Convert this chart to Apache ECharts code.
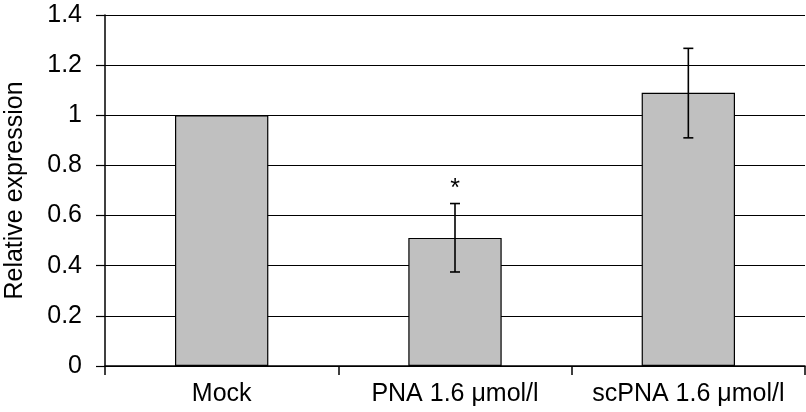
<!DOCTYPE html>
<html>
<head>
<meta charset="utf-8">
<script src="https://cdn.jsdelivr.net/npm/echarts@6/dist/echarts.min.js"></script>
<style>html,body{margin:0;padding:0;background:#fff}#c{width:806px;height:412px}</style>
</head>
<body>
<div id="c"></div>
<script>
var categories = ['Mock', 'PNA 1.6 \u03bcmol/l', 'scPNA 1.6 \u03bcmol/l'];
var values = [1.0, 0.511, 1.090];
var errLow = [1.0, 0.375, 0.910];
var errHigh = [1.0, 0.648, 1.267];
var marks = ['', '*', ''];
var yMin = 0, yMax = 1.4, yStep = 0.2;

var FONT = '"Liberation Sans", Arial, Helvetica, sans-serif';
var FS = 25;
var chart = echarts.init(document.getElementById('c'));
var errData = categories.map(function (c, i) { return [i, errLow[i], errHigh[i], marks[i]]; });

chart.setOption({
  animation: false,
  grid: { left: 105, right: 1, top: 15, bottom: 46, containLabel: false, outerBoundsMode: 'none' },
  xAxis: {
    type: 'category',
    data: categories,
    z: 5,
    axisLine: { lineStyle: { color: '#000', width: 1.5 } },
    axisTick: { show: true, length: 9, lineStyle: { color: '#000', width: 1.5 } },
    axisLabel: { color: '#000', fontSize: FS, fontFamily: FONT, margin: 16, interval: 0, hideOverlap: false }
  },
  yAxis: {
    type: 'value',
    min: yMin, max: yMax, interval: yStep,
    name: 'Relative expression',
    nameLocation: 'middle',
    nameGap: 77,
    nameTextStyle: { color: '#000', fontSize: FS, fontFamily: FONT },
    axisLine: { show: true, lineStyle: { color: '#000', width: 1.5 } },
    axisTick: { show: true, length: 9, lineStyle: { color: '#000', width: 1.2 } },
    axisLabel: { color: '#000', fontSize: FS, fontFamily: FONT, margin: 23 },
    splitLine: { show: true, lineStyle: { color: '#000', width: 1.2 } }
  },
  series: [
    {
      type: 'bar',
      data: values,
      barWidth: '40%',
      itemStyle: { color: '#c0c0c0', borderColor: '#000', borderWidth: 1.2 },
      z: 2
    },
    {
      type: 'custom',
      data: errData,
      z: 3,
      renderItem: function (params, api) {
        var x = api.value(0);
        var lo = api.coord([x, api.value(1)]);
        var hi = api.coord([x, api.value(2)]);
        var hw = 5;
        var st = { stroke: '#000', lineWidth: 1.6 };
        var children = [];
        if (Math.abs(hi[1] - lo[1]) > 0.5) {
          children.push({ type: 'line', shape: { x1: hi[0], y1: hi[1], x2: lo[0], y2: lo[1] }, style: st });
          children.push({ type: 'line', shape: { x1: hi[0] - hw, y1: hi[1], x2: hi[0] + hw, y2: hi[1] }, style: st });
          children.push({ type: 'line', shape: { x1: lo[0] - hw, y1: lo[1], x2: lo[0] + hw, y2: lo[1] }, style: st });
        }
        var m = api.value(3);
        if (m) {
          children.push({ type: 'text', style: { text: m, x: hi[0], y: hi[1] - 2, align: 'center', verticalAlign: 'bottom', fill: '#000', fontSize: FS, fontFamily: FONT } });
        }
        return { type: 'group', children: children };
      }
    }
  ]
});
</script>
</body>
</html>
